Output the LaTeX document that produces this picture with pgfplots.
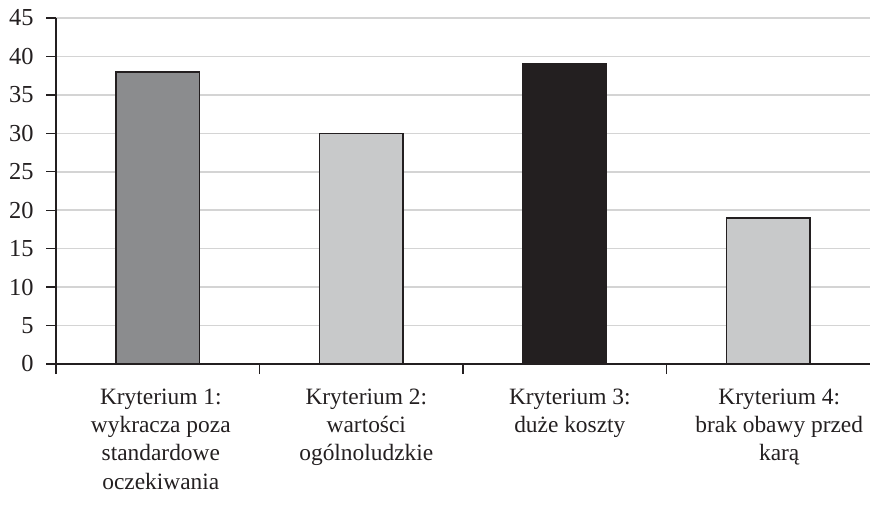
\documentclass[border=0pt]{standalone}
\usepackage{pgfplots}
\pgfplotsset{compat=1.18}
\usepackage{fontspec}
\setmainfont{Liberation Serif}
\definecolor{barA}{HTML}{8B8C8E}
\definecolor{barB}{HTML}{C8C9CA}
\definecolor{barC}{HTML}{231F20}
\definecolor{edge}{HTML}{231F20}
\definecolor{gridc}{HTML}{D4D4D4}
\begin{document}
\begin{tikzpicture}
\useasboundingbox (0,0) rectangle (873bp,505bp);
\begin{axis}[
  at={(56bp,141bp)}, anchor=south west,
  scale only axis, width=814bp, height=346bp,
  xmin=0, xmax=4, ymin=0, ymax=45,
  axis x line*=bottom, axis y line*=left,
  ytick={0,5,...,45},
  ymajorgrids, grid style={gridc, line width=1.6bp},
  tick align=outside, major tick length=10bp,
  axis line style={line width=1.3bp, edge},
  tick style={line width=1.3bp, edge},
  xtick={0,1,2,3}, xticklabels={},
  extra x ticks={0.515,1.525,2.525,3.554},
  extra x tick labels={{Kryterium 1:\\wykracza poza\\standardowe\\oczekiwania},
    {Kryterium 2:\\wartości\\ogólnoludzkie},
    {Kryterium 3:\\duże koszty},
    {Kryterium 4:\\brak obawy przed\\karą}},
  extra x tick style={major tick length=0pt, grid=none,
    tick label style={align=center, font=\fontsize{23.5}{28.5}\selectfont, yshift=-21bp, text=edge}},
  yticklabel style={font=\fontsize{24.5}{28}\selectfont, text=edge, xshift=-9bp},
  /pgf/number format/assume math mode=true,
  ybar, bar width=0.41,
]
\addplot[bar shift=0pt, fill=barA, draw=edge, line width=1.5bp] coordinates {(0.5,38)};
\addplot[bar shift=0pt, fill=barB, draw=edge, line width=1.5bp] coordinates {(1.5,30)};
\addplot[bar shift=0pt, fill=barC, draw=edge, line width=1.5bp] coordinates {(2.5,39)};
\addplot[bar shift=0pt, fill=barB, draw=edge, line width=1.5bp] coordinates {(3.5,19)};
\end{axis}
\end{tikzpicture}
\end{document}
